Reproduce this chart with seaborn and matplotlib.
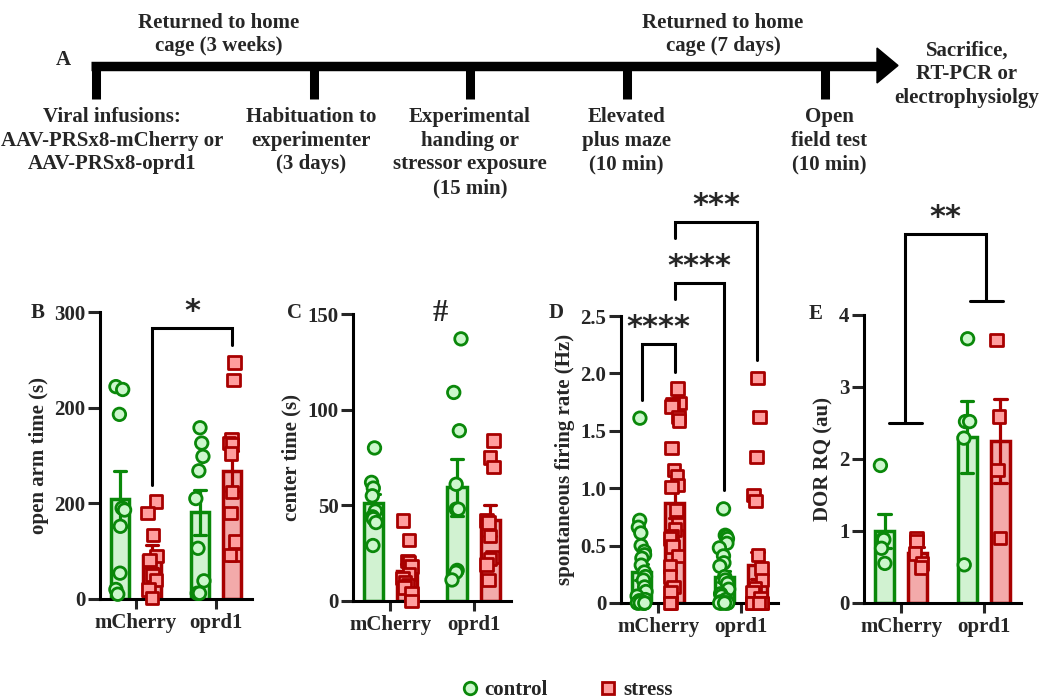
import numpy as np
import pandas as pd
import seaborn as sns
import matplotlib.pyplot as plt
from matplotlib.lines import Line2D

# groups
viruses = ['mCherry', 'oprd1']
conditions = ['control', 'stress']

# B: open arm time (s), read on the plotted (broken-axis) scale
epm_mcherry_control = [222, 219, 193, 95, 93, 76, 27, 10, 5]
epm_mcherry_stress = [102, 90, 67, 45, 41, 25, 20, 10, 1]
epm_oprd1_control = [179, 163, 149, 134, 105, 53, 19, 6, 6]
epm_oprd1_stress = [247, 229, 167, 163, 162, 152, 112, 90, 60, 46, 46]
epm_ticks = [0, 100, 200, 300]
epm_ticklabels = ['0', '200', '200', '300']

# C: center time (s)
oft_mcherry_control = [80, 62, 59, 55, 47, 44, 43, 41, 29]
oft_mcherry_stress = [42, 32, 21, 20, 18, 14, 12, 10, 8, 7, 4, 0]
oft_oprd1_control = [137, 109, 89, 61, 48, 48, 16, 15, 11]
oft_oprd1_stress = [84, 75, 70, 42, 41, 34, 23, 22, 19, 11]
oft_ticks = [0, 50, 100, 150]
oft_ticklabels = ['0', '50', '100', '150']

# D: spontaneous firing rate (Hz)
rate_mcherry_control = [1.61, 0.72, 0.66, 0.61, 0.5, 0.45, 0.42, 0.39, 0.33, 0.27, 0.23, 0.2, 0.14,
                        0.1, 0.06, 0.03, 0.02, 0.01, 0, 0, 0, 0, 0, 0, 0]
rate_mcherry_stress = [1.87, 1.74, 1.73, 1.71, 1.62, 1.59, 1.35, 1.16, 1.1, 1.03, 1.01, 0.81, 0.69,
                       0.64, 0.58, 0.56, 0.49, 0.41, 0.32, 0.23, 0.14, 0.09, 0, 0]
rate_oprd1_control = [0.82, 0.59, 0.58, 0.56, 0.52, 0.48, 0.41, 0.35, 0.32, 0.23, 0.2, 0.17, 0.12,
                      0.08, 0.06, 0.03, 0.01, 0, 0, 0, 0, 0, 0, 0]
rate_oprd1_stress = [1.96, 1.62, 1.27, 0.94, 0.89, 0.42, 0.3, 0.2, 0.13, 0.09, 0.04,
                     0, 0, 0, 0, 0, 0, 0, 0, 0, 0, 0, 0, 0]
rate_ticks = [0, 0.5, 1.0, 1.5, 2.0, 2.5]
rate_ticklabels = ['0', '0.5', '1.0', '1.5', '2.0', '2.5']

# E: DOR RQ (au)
dor_mcherry_control = [1.91, 0.89, 0.88, 0.76, 0.55]
dor_mcherry_stress = [0.9, 0.86, 0.69, 0.55, 0.49]
dor_oprd1_control = [3.67, 2.52, 2.52, 2.29, 0.53]
dor_oprd1_stress = [3.65, 2.59, 1.85, 0.9]
dor_ticks = [0, 1, 2, 3, 4]
dor_ticklabels = ['0', '1', '2', '3', '4']

fill_colors = {'control': '#ccf7cc', 'stress': '#ff9e9e'}
edge_colors = {'control': '#0a880a', 'stress': '#a80000'}
FS = 15

sns.set_theme(style='ticks')
plt.rcParams['font.family'] = ['Liberation Serif', 'DejaVu Serif']
plt.rcParams['font.weight'] = 'bold'
plt.rcParams['axes.labelweight'] = 'bold'
np.random.seed(7)


def make_df(mc, ms, oc, os_):
    rows = []
    for virus, cond, vals in [('mCherry', 'control', mc), ('mCherry', 'stress', ms),
                              ('oprd1', 'control', oc), ('oprd1', 'stress', os_)]:
        rows += [(virus, cond, v) for v in vals]
    return pd.DataFrame(rows, columns=['virus', 'cond', 'value'])


def px_axes(fig, left, right, top, bottom):
    W, H = 1059, 700
    return fig.add_axes([left / W, 1 - bottom / H, (right - left) / W, (bottom - top) / H])


def draw_panel(ax, df, ylabel, ticks, ticklabels):
    sns.barplot(data=df, x='virus', y='value', hue='cond', order=viruses, hue_order=conditions,
                palette=fill_colors, errorbar='se', capsize=0.3, gap=0.42, width=0.8,
                err_kws={'linewidth': 2.3}, linewidth=2.5, legend=False, ax=ax)
    for cont, cond in zip(ax.containers, conditions):
        for bar in cont:
            bar.set_edgecolor(edge_colors[cond])
    for line in ax.lines:
        x = np.nanmean(line.get_xdata())
        line.set_color(edge_colors['control' if x - round(x) < 0 else 'stress'])
        line.set_zorder(3)
    for cond, marker in zip(conditions, ['o', 's']):
        sns.stripplot(data=df[df.cond == cond], x='virus', y='value', hue='cond', order=viruses,
                      hue_order=conditions, palette=fill_colors, dodge=True, jitter=0.12,
                      marker=marker, size=9, linewidth=2, edgecolor=edge_colors[cond],
                      legend=False, ax=ax, zorder=4)
    # drop empty point layers, let real points spill over the axis edge
    for coll in list(ax.collections):
        if len(coll.get_offsets()) == 0:
            coll.remove()
        else:
            coll.set_clip_on(False)
    ax.set_xlim(-0.45, 1.45)
    ax.set_ylim(ticks[0], ticks[-1])
    ax.set_yticks(ticks)
    ax.set_yticklabels(ticklabels)
    ax.set_xlabel('')
    ax.set_ylabel(ylabel, fontsize=FS, fontweight='bold')
    ax.tick_params(axis='y', length=8.5, width=2.2, labelsize=FS, pad=2)
    ax.tick_params(axis='x', length=7, width=2.2, labelsize=FS, pad=3)
    for lab in ax.get_xticklabels() + ax.get_yticklabels():
        lab.set_fontweight('bold')
    sns.despine(ax=ax)
    for s in ['left', 'bottom']:
        ax.spines[s].set_linewidth(2.2)
        ax.spines[s].set_color('black')


def bracket(ax, x1, x2, ytop, yl, yr, text, ty, caps=0):
    ax.plot([x1, x1, x2, x2], [yl, ytop, ytop, yr], color='black', lw=2.2,
            clip_on=False, solid_joinstyle='miter')
    if caps:
        for x, y in [(x1, yl), (x2, yr)]:
            ax.plot([x - caps, x + caps], [y, y], color='black', lw=2.2, clip_on=False)
    ax.text((x1 + x2) / 2, ty, text, ha='center', va='center', fontsize=22, fontweight='bold',
            family='DejaVu Sans')


fig = plt.figure(figsize=(10.59, 7), dpi=100)

# timeline (panel A) in pixel coordinates
ax0 = fig.add_axes([0, 0, 1, 1])
ax0.set_xlim(0, 1059)
ax0.set_ylim(700, 0)
ax0.axis('off')
stage_x = [95.5, 313.5, 470, 626.5, 824.5]
ax0.plot([91, 878], [65.5, 65.5], color='black', lw=6.8, solid_capstyle='butt')
ax0.fill([877, 898, 877], [48, 65.5, 83], color='black')
for sx in stage_x:
    ax0.plot([sx, sx], [62, 99], color='black', lw=6.5, solid_capstyle='butt')
tl_kw = dict(ha='center', va='center', fontsize=FS, fontweight='bold', linespacing=1.25)
ax0.text(219, 34.5, 'Returned to home\ncage (3 weeks)', **tl_kw)
ax0.text(723, 34.5, 'Returned to home\ncage (7 days)', **tl_kw)
ax0.text(967, 74, 'Sacrifice,\nRT-PCR or\nelectrophysiolgy', **tl_kw)
tb_kw = dict(ha='center', va='top', fontsize=FS, fontweight='bold', linespacing=1.25)
ax0.text(112, 107, 'Viral infusions:\nAAV-PRSx8-mCherry or\nAAV-PRSx8-oprd1', **tb_kw)
ax0.text(311, 107, 'Habituation to\nexperimenter\n(3 days)', **tb_kw)
ax0.text(470, 107, 'Experimental\nhanding or\nstressor exposure\n(15 min)', **tb_kw)
ax0.text(626, 107, 'Elevated\nplus maze\n(10 min)', **tb_kw)
ax0.text(829, 107, 'Open\nfield test\n(10 min)', **tb_kw)
for letter, lx, ly in [('A', 63, 60), ('B', 38, 313), ('C', 295, 313), ('D', 556, 313), ('E', 816, 314)]:
    ax0.text(lx, ly, letter, ha='center', va='center', fontsize=FS, fontweight='bold')

# panel B
axB = px_axes(fig, 100, 252, 312, 599)
draw_panel(axB, make_df(epm_mcherry_control, epm_mcherry_stress, epm_oprd1_control, epm_oprd1_stress),
           'open arm time (s)', epm_ticks, epm_ticklabels)
bracket(axB, 0.2, 1.2, 283, 119, 265, '*', 300)

# panel C
axC = px_axes(fig, 353, 511, 314, 601)
draw_panel(axC, make_df(oft_mcherry_control, oft_mcherry_stress, oft_oprd1_control, oft_oprd1_stress),
           'center time (s)', oft_ticks, oft_ticklabels)
axC.text(0.6, 150.5, '#', ha='center', va='center', fontsize=22, fontweight='bold')

# panel D
axD = px_axes(fig, 621, 778, 316, 603)
draw_panel(axD, make_df(rate_mcherry_control, rate_mcherry_stress, rate_oprd1_control, rate_oprd1_stress),
           'spontaneous firing rate (Hz)', rate_ticks, rate_ticklabels)
bracket(axD, -0.2, 0.2, 2.26, 1.77, 2.01, '****', 2.40)
bracket(axD, 0.2, 0.8, 2.79, 2.65, 0.98, '****', 2.93)
bracket(axD, 0.2, 1.2, 3.32, 3.18, 2.12, '***', 3.46)

# panel E
axE = px_axes(fig, 864, 1021, 315, 603)
draw_panel(axE, make_df(dor_mcherry_control, dor_mcherry_stress, dor_oprd1_control, dor_oprd1_stress),
           'DOR RQ (au)', dor_ticks, dor_ticklabels)
bracket(axE, 0.05, 1.03, 5.12, 2.5, 4.19, '**', 5.36, caps=0.2)

# legend
handles = [Line2D([], [], marker=m, linestyle='', markersize=9, markerfacecolor=fill_colors[c],
                  markeredgecolor=edge_colors[c], markeredgewidth=2, label=c)
           for c, m in zip(conditions, ['o', 's'])]
fig.legend(handles=handles, loc='center', bbox_to_anchor=(566 / 1059, 1 - 690 / 700), ncol=2,
           frameon=False, handletextpad=0.2, columnspacing=2.4, handlelength=1.0,
           prop={'weight': 'bold', 'size': FS})

fig.savefig('out.png', dpi=100)
